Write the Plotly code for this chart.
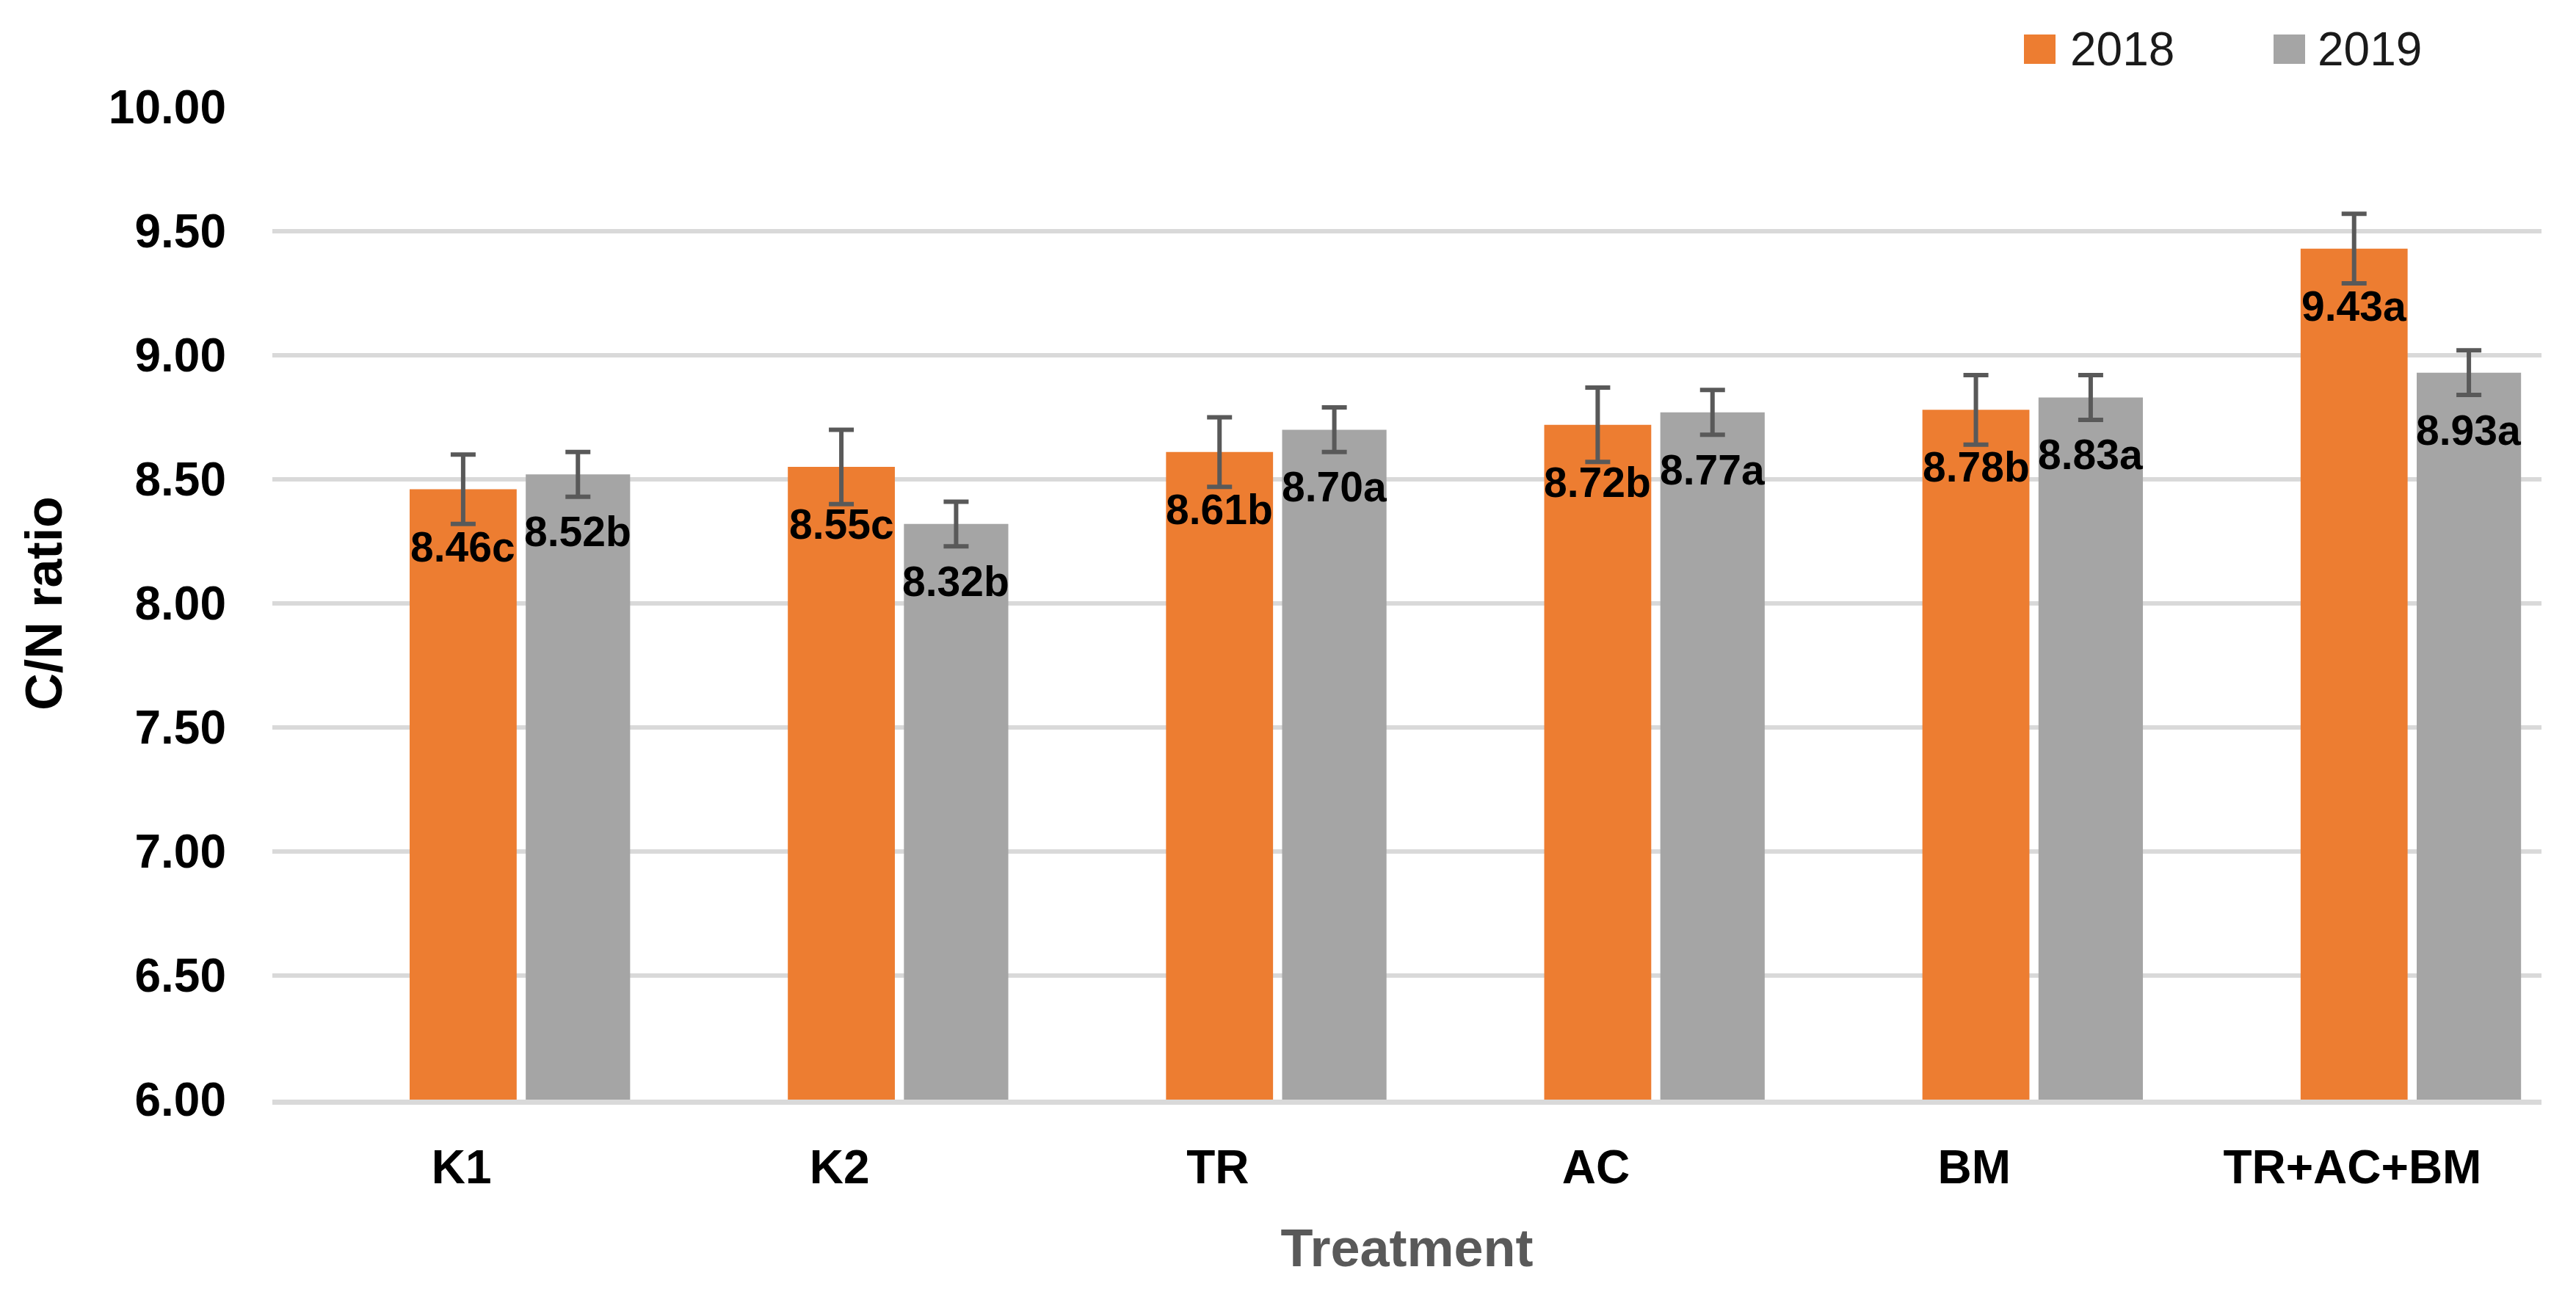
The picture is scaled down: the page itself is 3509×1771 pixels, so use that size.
import plotly.graph_objects as go

categories = ["K1", "K2", "TR", "AC", "BM", "TR+AC+BM"]
y2018 = [8.46, 8.55, 8.61, 8.72, 8.78, 9.43]
y2019 = [8.52, 8.32, 8.70, 8.77, 8.83, 8.93]
err2018 = [0.14, 0.15, 0.14, 0.15, 0.14, 0.14]
err2019 = [0.09, 0.09, 0.09, 0.09, 0.09, 0.09]
letters2018 = ["c", "c", "b", "b", "b", "a"]
letters2019 = ["b", "b", "a", "a", "a", "a"]
series_names = ["2018", "2019"]
y_ticks = [6.0, 6.5, 7.0, 7.5, 8.0, 8.5, 9.0, 9.5, 10.0]

W, H = 3509, 1771
ML, MR, MT, MB = 371, 47, 146, 273
PW, PH = W - ML - MR, H - MT - MB

ORANGE = "#ED7D31"
GRAY = "#A5A5A5"
ERRC = "#595959"
FONT = "Liberation Sans, Arial, sans-serif"

def px_x(x):
    return (x - ML) / PW

def px_y(y):
    return (H - MB - y) / PH

specs = [
    dict(name=series_names[0], y=y2018, err=err2018, let=letters2018, color=ORANGE, width=0.283, offset=-0.137),
    dict(name=series_names[1], y=y2019, err=err2019, let=letters2019, color=GRAY, width=0.276, offset=0.170),
]

fig = go.Figure()
annotations = []
for s in specs:
    fig.add_trace(go.Bar(
        x=categories, y=s["y"], name=s["name"],
        marker=dict(color=s["color"], line=dict(width=0)),
        width=s["width"], offset=s["offset"],
        error_y=dict(type="data", array=s["err"], visible=True,
                     color=ERRC, thickness=6, width=17),
        showlegend=False,
    ))
    for i, (v, l) in enumerate(zip(s["y"], s["let"])):
        annotations.append(dict(
            x=i + s["offset"] + s["width"] / 2, y=v, xref="x", yref="y",
            text=f"{v:.2f}{l}", showarrow=False, yshift=-78,
            xanchor="center", yanchor="middle",
            font=dict(family=FONT, size=57, color="black", weight="bold"),
        ))

# legend (manual, to match large swatches)
shapes = []
legend_items = [(series_names[0], ORANGE, 2757, 2818), (series_names[1], GRAY, 3097, 3155)]
for name, col, sx, tx in legend_items:
    shapes.append(dict(type="rect", xref="paper", yref="paper",
                       x0=px_x(sx), x1=px_x(sx + 43), y0=px_y(87), y1=px_y(47),
                       fillcolor=col, line=dict(width=0)))
    annotations.append(dict(x=px_x(tx), y=px_y(67), xref="paper", yref="paper",
                            text=name, showarrow=False, xanchor="left", yanchor="middle",
                            font=dict(family=FONT, size=64, color="#1a1a1a")))

fig.update_layout(
    width=W, height=H, autosize=False,
    margin=dict(l=ML, r=MR, t=MT, b=MB, pad=0),
    paper_bgcolor="white", plot_bgcolor="white",
    barmode="overlay",
    shapes=shapes, annotations=annotations,
    font=dict(family=FONT, color="black"),
)
fig.update_xaxes(
    type="category", range=[-0.5, len(categories) - 0.5],
    showgrid=False, showline=True, linecolor="#D9D9D9", linewidth=7,
    ticks="", ticklabelstandoff=30,
    tickfont=dict(family=FONT, size=64, color="black", weight="bold"),
    title=dict(text="Treatment", standoff=52,
               font=dict(family=FONT, size=72, color="#595959", weight="bold")),
)
fig.update_yaxes(
    range=[6, 10], tickvals=y_ticks, tickformat=".2f",
    showgrid=True, gridcolor="#D9D9D9", gridwidth=6,
    zeroline=False, showline=False, ticks="", ticklabelstandoff=62,
    tickfont=dict(family=FONT, size=64, color="black", weight="bold"),
    title=dict(text="C/N ratio", standoff=40,
               font=dict(family=FONT, size=70, color="black", weight="bold")),
)

fig.write_html("out.html",
               config={"displayModeBar": False},
               post_script="document.body.style.margin='0';document.body.style.overflow='hidden';")
